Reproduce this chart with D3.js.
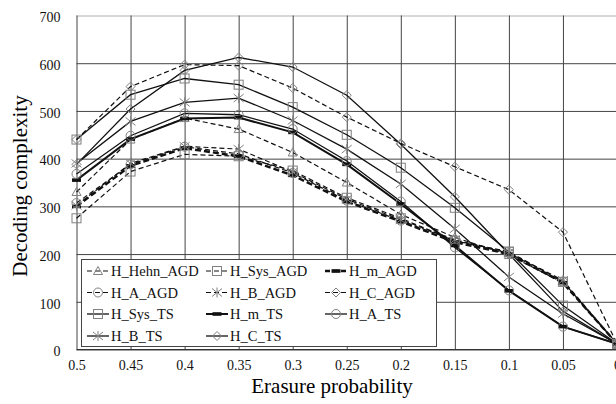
<!DOCTYPE html>
<html lang="en">
<head>
<meta charset="UTF-8">
<title>Decoding complexity</title>
<script src="https://cdn.jsdelivr.net/npm/d3@7/dist/d3.min.js"></script>
<style>
  body { margin: 0; background: #fff; }
  svg { font-family: "Liberation Serif", "Times New Roman", serif; }
</style>
</head>
<body>
<script>
// erasure probability categories (left to right)
const categories = ['0.5', '0.45', '0.4', '0.35', '0.3', '0.25', '0.2', '0.15', '0.1', '0.05', '0'];
const yTicks = [0, 100, 200, 300, 400, 500, 600, 700];

// values
const hHehnAGD = [330, 440, 485, 462, 413, 350, 283, 235, 198, 140, 12];
const hSysAGD  = [275, 373, 409, 405, 375, 318, 275, 228, 205, 142, 12];
const hmAGD    = [300, 385, 422, 405, 365, 310, 268, 225, 200, 140, 12];
const hAAGD    = [307, 388, 425, 410, 370, 312, 270, 228, 202, 142, 12];
const hBAGD    = [302, 390, 426, 420, 372, 315, 272, 230, 203, 145, 12];
const hCAGD    = [440, 551, 597, 595, 548, 487, 432, 383, 335, 246, 12];
const hSysTS   = [440, 534, 568, 555, 508, 450, 381, 297, 205, 92, 12];
const hmTS     = [355, 441, 484, 486, 455, 388, 305, 218, 123, 48, 12];
const hATS     = [368, 448, 495, 492, 462, 395, 310, 214, 124, 48, 12];
const hBTS     = [390, 478, 518, 527, 480, 420, 347, 253, 152, 75, 12];
const hCTS     = [388, 504, 585, 612, 592, 533, 430, 320, 200, 80, 12];

const series = [
  {name: 'H_Hehn_AGD', values: hHehnAGD, mark: 'triangle', dash: true,  width: 1.2},
  {name: 'H_Sys_AGD',  values: hSysAGD,  mark: 'square',   dash: true,  width: 1.2},
  {name: 'H_m_AGD',    values: hmAGD,    mark: 'bar',      dash: true,  width: 2.4},
  {name: 'H_A_AGD',    values: hAAGD,    mark: 'circle',   dash: true,  width: 1.2},
  {name: 'H_B_AGD',    values: hBAGD,    mark: 'star',     dash: true,  width: 1.2},
  {name: 'H_C_AGD',    values: hCAGD,    mark: 'diamond',  dash: true,  width: 1.2},
  {name: 'H_Sys_TS',   values: hSysTS,   mark: 'square',   dash: false, width: 1.3},
  {name: 'H_m_TS',     values: hmTS,     mark: 'bar',      dash: false, width: 2},
  {name: 'H_A_TS',     values: hATS,     mark: 'circle',   dash: false, width: 1.3},
  {name: 'H_B_TS',     values: hBTS,     mark: 'star',     dash: false, width: 1.3},
  {name: 'H_C_TS',     values: hCTS,     mark: 'diamond',  dash: false, width: 1.3}
];

const W = 616, H = 404;
const m = {left: 76.5, right: 617, top: 15.5, bottom: 349.5};
const serif = '"Liberation Serif", "Times New Roman", serif';

const svg = d3.select('body').append('svg')
  .attr('width', W).attr('height', H);

const x = d3.scalePoint().domain(categories).range([m.left, m.right]);
const y = d3.scaleLinear().domain([0, 700]).range([m.bottom, m.top]);

// grid + tick labels
const yAxis = svg.append('g')
  .attr('transform', `translate(${m.left},0)`)
  .call(d3.axisLeft(y).tickValues(yTicks).tickSize(-(m.right - m.left)).tickSizeOuter(0).tickPadding(16));
yAxis.attr('font-family', serif);
yAxis.select('.domain').remove();
yAxis.selectAll('line').attr('stroke', d => d === 700 ? '#b0b0b0' : '#444');
yAxis.selectAll('text').attr('font-size', 14).attr('fill', '#111').attr('dy', '0.45em');

const xAxis = svg.append('g')
  .attr('transform', `translate(0,${m.bottom})`)
  .call(d3.axisBottom(x).tickSize(-(m.bottom - m.top)).tickSizeOuter(0).tickPadding(11));
xAxis.attr('font-family', serif);
xAxis.select('.domain').remove();
xAxis.selectAll('line').attr('stroke', '#444');
xAxis.selectAll('text').attr('font-size', 14).attr('fill', '#111');

svg.append('line')
  .attr('x1', m.left).attr('x2', m.right).attr('y1', m.bottom).attr('y2', m.bottom)
  .attr('stroke', '#333');

// axis titles
svg.append('text')
  .attr('x', 332).attr('y', 393)
  .attr('text-anchor', 'middle')
  .attr('font-size', 21)
  .text('Erasure probability');

svg.append('text')
  .attr('transform', 'translate(27,186) rotate(-90)')
  .attr('text-anchor', 'middle')
  .attr('font-size', 21)
  .text('Decoding complexity');

// markers
function drawMark(g, type) {
  const grey = '#808080';
  if (type === 'triangle') {
    g.append('path').attr('d', 'M0,-4.5L4.5,3.5L-4.5,3.5Z')
      .attr('fill', 'none').attr('stroke', grey);
  } else if (type === 'square') {
    g.append('rect').attr('x', -4.5).attr('y', -4.5).attr('width', 9).attr('height', 9)
      .attr('fill', 'none').attr('stroke', grey);
  } else if (type === 'circle') {
    g.append('circle').attr('r', 4.5)
      .attr('fill', 'none').attr('stroke', grey);
  } else if (type === 'diamond') {
    g.append('path').attr('d', 'M0,-4.5L4.5,0L0,4.5L-4.5,0Z')
      .attr('fill', 'none').attr('stroke', grey);
  } else if (type === 'star') {
    g.append('path').attr('d', 'M0,-5V5M-5,-4L5,4M-5,4L5,-4')
      .attr('fill', 'none').attr('stroke', grey);
  } else if (type === 'bar') {
    g.append('rect').attr('x', -4.5).attr('y', -1.8).attr('width', 9).attr('height', 3.6)
      .attr('fill', '#111');
  }
}

const line = d3.line()
  .x((d, i) => x(categories[i]))
  .y(d => y(d));

const plot = svg.append('g');

series.forEach(s => {
  plot.append('path')
    .attr('d', line(s.values))
    .attr('fill', 'none')
    .attr('stroke', '#111')
    .attr('stroke-width', s.width)
    .attr('stroke-dasharray', s.dash ? (s.width > 2 ? '6,3' : '5,3') : null);
});

series.forEach(s => {
  s.values.forEach((v, i) => {
    const g = plot.append('g').attr('transform', `translate(${x(categories[i])},${y(v)})`);
    drawMark(g, s.mark);
  });
});

// legend
const legend = svg.append('g');
legend.append('rect')
  .attr('x', 81.5).attr('y', 259.5).attr('width', 355).attr('height', 87)
  .attr('fill', '#fff').attr('stroke', '#444');

const colX = [98, 217, 336];
const rowY = [271, 292.5, 314, 336];

series.forEach((s, i) => {
  const cx = colX[i % 3], cy = rowY[Math.floor(i / 3)];
  const g = legend.append('g').attr('transform', `translate(${cx},${cy})`);
  g.append('line')
    .attr('x1', -11).attr('x2', 11)
    .attr('stroke', '#111')
    .attr('stroke-width', s.width)
    .attr('stroke-dasharray', s.dash ? '5,3' : null);
  drawMark(g, s.mark);
  legend.append('text')
    .attr('x', cx + 13).attr('y', cy + 5)
    .attr('font-size', 14.5)
    .attr('fill', '#111')
    .text(s.name);
});
</script>
</body>
</html>
